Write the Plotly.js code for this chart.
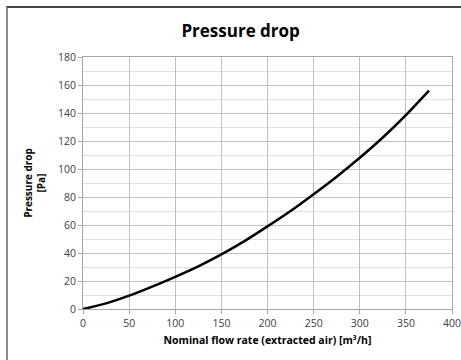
<!DOCTYPE html>
<html>
<head>
<meta charset="utf-8">
<script src="https://cdn.plot.ly/plotly-3.0.1.min.js"></script>
<style>
  html, body { margin: 0; padding: 0; background: #fff; }
  #wrap { position: relative; width: 461px; height: 360px; overflow: hidden; }
  #chart { position: absolute; left: 0; top: 0; width: 461px; height: 360px; }
  #frame { position: absolute; left: 6px; top: 6px; width: 470px; height: 370px;
           border-top: 2px solid #444; border-left: 2px solid #8c8c8c; pointer-events: none; }
</style>
</head>
<body>
<div id="wrap">
  <div id="chart"></div>
  <div id="frame"></div>
</div>
<script>
const flowRate = [0, 25, 50, 75, 100, 125, 150, 175, 200, 225, 250, 275, 300, 325, 350, 375];
const pressureDrop = [0, 4, 9.5, 16, 23, 30.5, 39, 48.5, 59, 70, 82, 94.5, 108, 122.5, 138.5, 156];
const chartTitle = 'Pressure drop';
const xTitle = 'Nominal flow rate (extracted air) [m³/h]';
const yTitle = 'Pressure drop<br>[Pa]';

const font = 'Open Sans, Noto Sans, Liberation Sans, sans-serif';

Plotly.newPlot('chart', [{
  x: flowRate,
  y: pressureDrop,
  type: 'scatter',
  mode: 'lines',
  line: { color: '#000', width: 2.5, shape: 'spline', smoothing: 0.8 },
  hoverinfo: 'none'
}], {
  width: 461, height: 360,
  margin: { l: 83, r: 9, t: 57, b: 51 },
  paper_bgcolor: '#fff', plot_bgcolor: '#fff',
  showlegend: false,
  title: { text: '<b>' + chartTitle + '</b>', font: { family: font, size: 17, color: '#000' },
           x: 0.522, xref: 'container', xanchor: 'center', y: 0.915, yref: 'container', yanchor: 'middle' },
  xaxis: {
    range: [0, 400], dtick: 50, tick0: 0,
    showgrid: true, gridcolor: '#bfbfbf', gridwidth: 1,
    zeroline: false, showline: true, linecolor: '#a6a6a6', linewidth: 1, mirror: true,
    ticks: 'outside', ticklen: 4, tickcolor: '#a6a6a6',
    ticklabeloverflow: 'allow',
    tickfont: { family: font, size: 10.5, color: '#404040' },
    title: { text: '<b>' + xTitle + '</b>', font: { family: font, size: 10.5, color: '#000' }, standoff: 8 }
  },
  yaxis: {
    range: [0, 180], dtick: 20, tick0: 0,
    showgrid: true, gridcolor: '#bfbfbf', gridwidth: 1,
    minor: { dtick: 10, showgrid: true, gridcolor: '#e0e0e0', gridwidth: 1 },
    zeroline: false, showline: true, linecolor: '#a6a6a6', linewidth: 1, mirror: true,
    ticks: 'outside', ticklen: 4, tickcolor: '#a6a6a6',
    tickfont: { family: font, size: 10.5, color: '#404040' },
    title: { text: '<b>' + yTitle + '</b>', font: { family: font, size: 10, color: '#000' }, standoff: 10 }
  }
}, { staticPlot: true, displayModeBar: false });
</script>
</body>
</html>
